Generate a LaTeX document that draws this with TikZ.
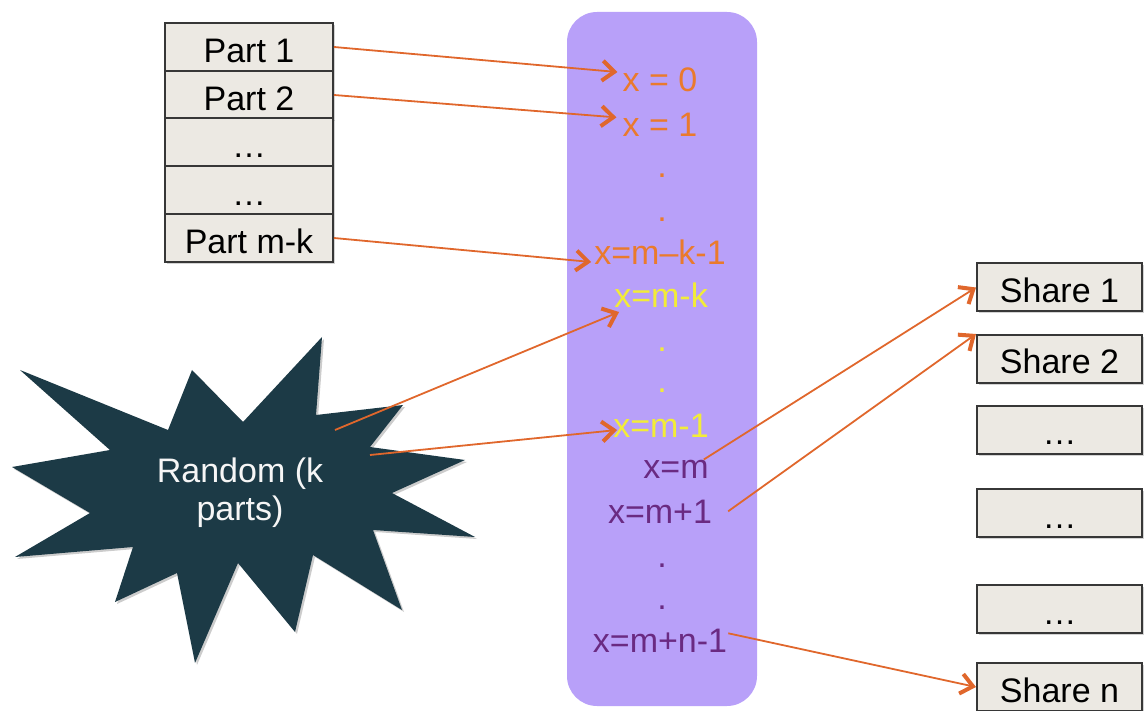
\documentclass[tikz,border=0pt]{standalone}
\usepackage{fontspec}
\setmainfont{Liberation Sans}
\usetikzlibrary{arrows.meta,shadows}
\definecolor{bandc}{RGB}{184,160,249}
\definecolor{orangetxt}{RGB}{234,122,44}
\definecolor{yellowtxt}{RGB}{242,236,56}
\definecolor{purpletxt}{RGB}{106,42,130}
\definecolor{boxfill}{RGB}{236,233,227}
\definecolor{boxline}{RGB}{55,55,55}
\definecolor{burst}{RGB}{28,58,70}
\definecolor{arrowc}{RGB}{224,103,44}
\begin{document}
\begin{tikzpicture}[x=1pt,y=-1pt,
  bigfont/.style={font=\fontsize{34}{38}\selectfont},
  txt/.style={bigfont, inner sep=0pt, anchor=base},
  cell/.style={bigfont, draw=boxline, line width=2pt, fill=boxfill,
    minimum width=168pt, minimum height=48pt, inner sep=0pt,
    text height=32pt, text depth=0pt,
    drop shadow={shadow xshift=2pt, shadow yshift=-2pt, opacity=0.35}},
  sharecell/.style={cell, minimum width=165pt, text height=30pt},
  band/.style={fill=bandc, rounded corners=30pt, minimum width=190pt,
    minimum height=694pt, inner sep=0pt},
  arr/.style={draw=arrowc, line width=1.8pt,
    -{Straight Barb[length=12pt,width=20pt,line width=4pt]}}
]
\useasboundingbox (0,0) rectangle (1144,711);

% band
\node[band] (band) at (662,359) {};

% starburst
\fill[burst, drop shadow={shadow xshift=2pt, shadow yshift=-2pt, opacity=0.4}]
  (12,467) -- (110,450) -- (20,370) -- (168,430) -- (192,370) -- (243,422)
  -- (322,337) -- (316,415) -- (403,405) -- (370,447) -- (465,460)
  -- (392,493) -- (475,537) -- (373,530) -- (402,610) -- (313,555)
  -- (295,632) -- (238,563) -- (195,663) -- (177,573) -- (115,602)
  -- (133,547) -- (15,557) -- (90,513) -- cycle;
\node[bigfont, text=white!93!gray, align=center, inner sep=0pt] (rnd) at (240,493) {Random (k\\parts)};
\coordinate (r1) at (335,430);
\coordinate (r2) at (370,455);

% parts
\node[cell] (p1) at (249,47) {Part 1};
\node[cell] (p2) at (249,95) {Part 2};
\node[cell] (p3) at (249,142) {…};
\node[cell] (p4) at (249,190) {…};
\node[cell] (pmk) at (249,238) {Part m-k};

% shares
\node[sharecell] (s1) at (1059.5,287.5) {Share 1};
\node[sharecell] (s2) at (1059.5,359) {Share 2};
\node[sharecell] (s3) at (1059.5,430) {…};
\node[sharecell] (s4) at (1059.5,513) {…};
\node[sharecell] (s5) at (1059.5,609) {…};
\node[sharecell] (sn) at (1059.5,687) {Share n};

% band texts
\node[txt, text=orangetxt] (x0) at (660,92) {x = 0};
\node[txt, text=orangetxt] (x1) at (660,137) {x = 1};
\node[txt, text=orangetxt] (d1) at (662,178) {.};
\node[txt, text=orangetxt] (d2) at (662,222) {.};
\node[txt, text=orangetxt] (xmk1) at (660,265) {x=m–k-1};
\node[txt, text=yellowtxt] (xmk) at (661,308) {x=m-k};
\node[txt, text=yellowtxt] (d3) at (662,352) {.};
\node[txt, text=yellowtxt] (d4) at (662,393) {.};
\node[txt, text=yellowtxt] (xmm1) at (661,437) {x=m-1};
\node[txt, text=purpletxt] (xm) at (676,478) {x=m};
\node[txt, text=purpletxt] (xmp1) at (660,523) {x=m+1};
\node[txt, text=purpletxt] (d5) at (662,567) {.};
\node[txt, text=purpletxt] (d6) at (662,609) {.};
\node[txt, text=purpletxt] (xmn1) at (660,652) {x=m+n-1};

% arrows
\draw[arr] (p1.east) -- ([shift={(-5,4)}]x0.north west);
\draw[arr] (p2.east) -- ([shift={(-6,4)}]x1.north west);
\draw[arr] (pmk.east) -- ([shift={(-3,-3)}]xmk1.base west);
\draw[arr] (r1) -- ([shift={(5,4)}]xmk.base west);
\draw[arr] (r2) -- ([shift={(4,-7)}]xmm1.base west);
\draw[arr] ([shift={(-5,0)}]xm.north east) -- (s1.west);
\draw[arr] ([shift={(16,0)}]xmp1.east) -- (s2.north west);
\draw[arr] ([shift={(1,-7)}]xmn1.east) -- (sn.west);
\end{tikzpicture}
\end{document}
